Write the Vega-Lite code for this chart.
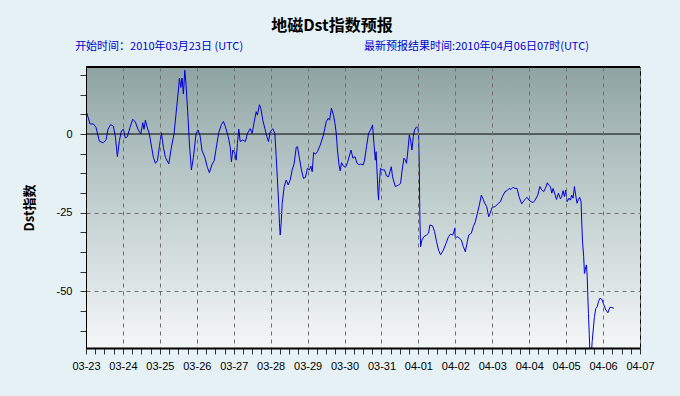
{
  "$schema": "https://vega.github.io/schema/vega-lite/v6.json",
  "width": 554,
  "height": 281,
  "autosize": "none",
  "padding": {"left": 86, "top": 67, "right": 40, "bottom": 48},
  "background": "#e6f1f6",
  "view": {"stroke": "#000000", "strokeWidth": 1},
  "title": {
    "text": "地磁Dst指数预报",
    "subtitle": "开始时间：2010年03月23日 (UTC)\u3000\u3000\u3000\u3000\u3000\u3000\u3000\u3000\u3000\u3000\u3000最新预报结果时间:2010年04月06日07时(UTC)",
    "anchor": "middle",
    "frame": "group",
    "dx": -31,
    "offset": 14,
    "font": "Noto Sans CJK SC",
    "fontSize": 16,
    "fontWeight": "bold",
    "color": "#000000",
    "subtitleFont": "Noto Sans CJK SC",
    "subtitleFontSize": 11,
    "subtitleColor": "#0000cc",
    "subtitlePadding": 7
  },
  "data": {"values": [
    {"hour": 0.6, "v": 6.6}, {"hour": 2.6, "v": 3.2}, {"hour": 4.8, "v": 3.2}, {"hour": 6.5, "v": 2.1},
    {"hour": 8.7, "v": -2.3}, {"hour": 11.3, "v": -2.8}, {"hour": 13, "v": -1.9}, {"hour": 14.3, "v": 1.5},
    {"hour": 16, "v": 3.0}, {"hour": 17.8, "v": 2.5}, {"hour": 19.1, "v": -1.0}, {"hour": 20.4, "v": -7.2},
    {"hour": 21.7, "v": -2.1}, {"hour": 23, "v": 1.0}, {"hour": 24.3, "v": 1.5}, {"hour": 25.6, "v": -1.3},
    {"hour": 26.9, "v": -0.8}, {"hour": 28.6, "v": 2.1}, {"hour": 30.4, "v": 4.7}, {"hour": 32.1, "v": 3.8},
    {"hour": 33.8, "v": 1.5}, {"hour": 35.6, "v": 0.0}, {"hour": 36.9, "v": 3.6}, {"hour": 37.7, "v": 1.5},
    {"hour": 38.6, "v": 4.4}, {"hour": 39.9, "v": 1.9}, {"hour": 41.2, "v": 0.0}, {"hour": 42.5, "v": -3.8},
    {"hour": 43.8, "v": -7.4}, {"hour": 45.1, "v": -9.3}, {"hour": 46.4, "v": -8.5}, {"hour": 47.7, "v": -4.0},
    {"hour": 49, "v": 0.4}, {"hour": 50.3, "v": -4.2}, {"hour": 51.6, "v": -7.4}, {"hour": 53.8, "v": -9.5},
    {"hour": 55.5, "v": -4.2}, {"hour": 57.2, "v": 0.0}, {"hour": 58.5, "v": 6.4}, {"hour": 59.8, "v": 12.7},
    {"hour": 60.7, "v": 17.8}, {"hour": 61.6, "v": 14.8}, {"hour": 62.4, "v": 17.8}, {"hour": 63.3, "v": 12.7},
    {"hour": 64.2, "v": 20.3}, {"hour": 65, "v": 15.9}, {"hour": 66.3, "v": 5.3}, {"hour": 67.2, "v": -3.2},
    {"hour": 68.5, "v": -11.4}, {"hour": 69.8, "v": -7.4}, {"hour": 71.5, "v": 0.0}, {"hour": 72.8, "v": 1.3},
    {"hour": 74.1, "v": -0.5}, {"hour": 75.4, "v": -5.3}, {"hour": 77.2, "v": -7.4}, {"hour": 78.9, "v": -10.6},
    {"hour": 80.2, "v": -12.3}, {"hour": 82, "v": -9.5}, {"hour": 83.3, "v": -8.5}, {"hour": 85, "v": -3.2},
    {"hour": 86.3, "v": 0.5}, {"hour": 88, "v": 3.0}, {"hour": 89.3, "v": 4.0}, {"hour": 90.6, "v": 2.3},
    {"hour": 92.4, "v": -0.8}, {"hour": 93.7, "v": -4.0}, {"hour": 94.5, "v": -8.8}, {"hour": 95.4, "v": -5.1},
    {"hour": 96.7, "v": -6.1}, {"hour": 97.6, "v": -8.3}, {"hour": 98.4, "v": -3.0}, {"hour": 99.3, "v": 1.5},
    {"hour": 100.2, "v": -2.4}, {"hour": 101.9, "v": -1.9}, {"hour": 103.6, "v": -2.4}, {"hour": 104.9, "v": 0.2},
    {"hour": 106.7, "v": 1.7}, {"hour": 108, "v": 0.2}, {"hour": 109.3, "v": 3.9}, {"hour": 110.6, "v": 7.1},
    {"hour": 111.4, "v": 6.0}, {"hour": 112.7, "v": 9.3}, {"hour": 113.6, "v": 8.2}, {"hour": 114.9, "v": 4.4},
    {"hour": 116.2, "v": 1.8}, {"hour": 117.5, "v": -0.8}, {"hour": 118.6, "v": -2.4}, {"hour": 119.7, "v": 0.7},
    {"hour": 121.4, "v": 1.7}, {"hour": 122.7, "v": 0.2}, {"hour": 123.6, "v": -7.2}, {"hour": 124.4, "v": -14.6},
    {"hour": 125.3, "v": -23.1}, {"hour": 125.7, "v": -28.4}, {"hour": 126.2, "v": -32.1}, {"hour": 126.8, "v": -28.4},
    {"hour": 127.5, "v": -22.0}, {"hour": 128.8, "v": -16.7}, {"hour": 130.1, "v": -14.6}, {"hour": 131.4, "v": -16.2},
    {"hour": 132.7, "v": -14.6}, {"hour": 134, "v": -11.4}, {"hour": 135.3, "v": -9.3}, {"hour": 136.6, "v": -4.2},
    {"hour": 137.4, "v": -4.0}, {"hour": 138.7, "v": -7.7}, {"hour": 140, "v": -11.4}, {"hour": 141.3, "v": -14.1},
    {"hour": 142.6, "v": -13.8}, {"hour": 143.9, "v": -10.9}, {"hour": 145.2, "v": -11.4}, {"hour": 146.1, "v": -10.2},
    {"hour": 147, "v": -12.0}, {"hour": 147.9, "v": -5.9}, {"hour": 149.1, "v": -6.4}, {"hour": 150.4, "v": -5.6},
    {"hour": 152.2, "v": -3.5}, {"hour": 154.3, "v": -0.3}, {"hour": 156.1, "v": 3.9}, {"hour": 157.4, "v": 5.0},
    {"hour": 158.3, "v": 4.4}, {"hour": 159.5, "v": 8.2}, {"hour": 160.8, "v": 6.0}, {"hour": 161.8, "v": 3.4},
    {"hour": 162.6, "v": 0.2}, {"hour": 163.4, "v": -5.1}, {"hour": 164.4, "v": -9.8}, {"hour": 165.2, "v": -11.7},
    {"hour": 166, "v": -9.1}, {"hour": 167.3, "v": -10.2}, {"hour": 168.6, "v": -10.6}, {"hour": 169.9, "v": -9.1},
    {"hour": 171.3, "v": -6.7}, {"hour": 172.2, "v": -5.1}, {"hour": 173.5, "v": -7.7}, {"hour": 174.8, "v": -7.2},
    {"hour": 176.1, "v": -9.3}, {"hour": 177.8, "v": -9.8}, {"hour": 178.4, "v": -9.5}, {"hour": 180.2, "v": -9.8},
    {"hour": 181, "v": -8.3}, {"hour": 182.3, "v": -4.0}, {"hour": 183.6, "v": 0.2}, {"hour": 184.9, "v": 1.3},
    {"hour": 185.8, "v": 2.3}, {"hour": 186.2, "v": 2.9}, {"hour": 187.1, "v": -3.0}, {"hour": 188, "v": -8.3},
    {"hour": 188.5, "v": -5.6}, {"hour": 189.3, "v": -13.6}, {"hour": 189.7, "v": -18.3}, {"hour": 190.1, "v": -21.0},
    {"hour": 190.6, "v": -15.7}, {"hour": 191.4, "v": -10.9}, {"hour": 192.3, "v": -11.4}, {"hour": 194, "v": -11.4},
    {"hour": 195.3, "v": -13.3}, {"hour": 196.6, "v": -13.6}, {"hour": 197.5, "v": -12.0}, {"hour": 198.4, "v": -10.4},
    {"hour": 199.2, "v": -13.6}, {"hour": 201, "v": -16.7}, {"hour": 203.1, "v": -16.2}, {"hour": 204.4, "v": -15.7},
    {"hour": 205.3, "v": -12.0}, {"hour": 206.6, "v": -7.7}, {"hour": 207.5, "v": -8.3}, {"hour": 208.3, "v": -9.3},
    {"hour": 209.2, "v": -5.1}, {"hour": 210.1, "v": -0.3}, {"hour": 210.9, "v": -1.9}, {"hour": 211.8, "v": -5.1},
    {"hour": 212.7, "v": -0.8}, {"hour": 213.5, "v": 1.3}, {"hour": 214.8, "v": 2.3}, {"hour": 215.7, "v": 1.8},
    {"hour": 216.1, "v": 0.2}, {"hour": 216.6, "v": -10.4}, {"hour": 216.8, "v": -21.0}, {"hour": 217, "v": -27.3},
    {"hour": 217.4, "v": -35.8}, {"hour": 218.3, "v": -33.7}, {"hour": 219.6, "v": -32.6}, {"hour": 221.3, "v": -32.1},
    {"hour": 222.6, "v": -31.5}, {"hour": 223.5, "v": -28.9}, {"hour": 225.2, "v": -29.2}, {"hour": 226.5, "v": -31.0},
    {"hour": 227.8, "v": -34.2}, {"hour": 229.1, "v": -36.9}, {"hour": 230.4, "v": -38.4}, {"hour": 232.2, "v": -36.9},
    {"hour": 234, "v": -34.7}, {"hour": 235.6, "v": -32.6}, {"hour": 236.9, "v": -31.8}, {"hour": 238.3, "v": -32.1},
    {"hour": 239.1, "v": -31.0}, {"hour": 239.5, "v": -30.0}, {"hour": 240, "v": -33.1}, {"hour": 241.3, "v": -32.6},
    {"hour": 242.6, "v": -33.1}, {"hour": 243.9, "v": -33.7}, {"hour": 245.2, "v": -35.8}, {"hour": 246.5, "v": -37.4},
    {"hour": 247.8, "v": -34.2}, {"hour": 248.7, "v": -32.1}, {"hour": 250.4, "v": -31.5}, {"hour": 251.7, "v": -29.4},
    {"hour": 253, "v": -27.9}, {"hour": 254.3, "v": -25.2}, {"hour": 255.6, "v": -22.6}, {"hour": 256.9, "v": -19.4},
    {"hour": 257.8, "v": -20.4}, {"hour": 259.1, "v": -22.0}, {"hour": 260.4, "v": -23.1}, {"hour": 261.7, "v": -26.3},
    {"hour": 262.6, "v": -25.2}, {"hour": 263.9, "v": -23.3}, {"hour": 265.8, "v": -23.1}, {"hour": 267.5, "v": -22.2},
    {"hour": 269.3, "v": -21.5}, {"hour": 270.6, "v": -19.9}, {"hour": 272.3, "v": -18.3}, {"hour": 273.6, "v": -18.0},
    {"hour": 274.9, "v": -17.3}, {"hour": 276.2, "v": -17.6}, {"hour": 277.5, "v": -16.9}, {"hour": 278.8, "v": -17.3},
    {"hour": 280.1, "v": -17.3}, {"hour": 281.4, "v": -19.9}, {"hour": 283.1, "v": -22.2}, {"hour": 284.9, "v": -21.0},
    {"hour": 286.6, "v": -20.1}, {"hour": 287.9, "v": -21.0}, {"hour": 289.2, "v": -21.5}, {"hour": 290.5, "v": -21.8},
    {"hour": 291.8, "v": -21.0}, {"hour": 293.6, "v": -19.4}, {"hour": 294.9, "v": -16.7}, {"hour": 296.2, "v": -17.8},
    {"hour": 297.5, "v": -18.3}, {"hour": 298.8, "v": -16.9}, {"hour": 299.8, "v": -15.5}, {"hour": 300.6, "v": -16.2},
    {"hour": 301.8, "v": -16.7}, {"hour": 302.7, "v": -18.8}, {"hour": 303.5, "v": -17.3}, {"hour": 304.9, "v": -19.4},
    {"hour": 305.7, "v": -20.8}, {"hour": 307, "v": -18.8}, {"hour": 308.3, "v": -20.6}, {"hour": 309.1, "v": -19.9},
    {"hour": 310, "v": -18.0}, {"hour": 310.9, "v": -19.9}, {"hour": 311.7, "v": -17.8}, {"hour": 312.6, "v": -21.5},
    {"hour": 313.9, "v": -20.4}, {"hour": 314.8, "v": -21.0}, {"hour": 315.6, "v": -19.4}, {"hour": 316.5, "v": -20.4},
    {"hour": 317.4, "v": -16.7}, {"hour": 318.2, "v": -19.4}, {"hour": 319.1, "v": -22.0}, {"hour": 320, "v": -20.8},
    {"hour": 320.8, "v": -20.1}, {"hour": 321.7, "v": -21.5}, {"hour": 322.1, "v": -27.3}, {"hour": 322.6, "v": -33.7},
    {"hour": 323.4, "v": -39.0}, {"hour": 323.9, "v": -44.3}, {"hour": 324.8, "v": -42.2}, {"hour": 325.2, "v": -41.6},
    {"hour": 325.7, "v": -45.3}, {"hour": 326.1, "v": -51.7}, {"hour": 326.5, "v": -57.0}, {"hour": 327, "v": -63.3},
    {"hour": 327.5, "v": -70.0}, {"hour": 328.2, "v": -72.0}, {"hour": 328.9, "v": -66.0}, {"hour": 329.6, "v": -62.3},
    {"hour": 330.4, "v": -58.0}, {"hour": 331.3, "v": -55.4}, {"hour": 332.2, "v": -54.9}, {"hour": 333, "v": -53.3},
    {"hour": 333.9, "v": -52.2}, {"hour": 335.2, "v": -52.5}, {"hour": 336.5, "v": -54.3}, {"hour": 337.8, "v": -55.9},
    {"hour": 339.1, "v": -56.8}, {"hour": 340.4, "v": -55.1}, {"hour": 341.7, "v": -55.1}, {"hour": 343, "v": -55.4}
  ]},
  "layer": [
    {
      "data": {"values": [{"hour": 0, "hour2": 360, "v": 21.3, "v2": -68}]},
      "mark": {"type": "rect", "color": {"gradient": "linear", "x1": 0, "y1": 0, "x2": 0, "y2": 1, "stops": [
        {"offset": 0, "color": "#8fa3a3"},
        {"offset": 0.25, "color": "#aabbbb"},
        {"offset": 0.55, "color": "#c8d4d4"},
        {"offset": 0.8, "color": "#e0e7e7"},
        {"offset": 1, "color": "#f5f7f7"}
      ]}},
      "encoding": {
        "x": {
          "field": "hour",
          "type": "quantitative",
          "scale": {"domain": [0, 360], "nice": false, "zero": false},
          "axis": {
            "title": null,
            "zindex": 1,
            "tickCount": 200,
            "values": [0, 6, 12, 18, 24, 30, 36, 42, 48, 54, 60, 66, 72, 78, 84, 90, 96, 102, 108, 114, 120, 126, 132, 138, 144, 150, 156, 162, 168, 174, 180, 186, 192, 198, 204, 210, 216, 222, 228, 234, 240, 246, 252, 258, 264, 270, 276, 282, 288, 294, 300, 306, 312, 318, 324, 330, 336, 342, 348, 354, 360],
            "labelExpr": "datum.value % 24 == 0 ? utcFormat(1269302400000 + datum.value * 3600000, '%m-%d') : ''",
            "labelFont": "Liberation Sans",
            "labelFontSize": 11,
            "labelColor": "#000000",
            "labelOverlap": false,
            "labelFlush": false,
            "labelPadding": 6,
            "tickColor": "#333333",
            "tickSize": 6,
            "domainColor": "#000000",
            "domainWidth": 2,
            "grid": true,
            "gridColor": "#6e6e6e",
            "gridDash": [4, 4],
            "gridWidth": 1,
            "gridOpacity": {"condition": {"test": "datum.value % 24 == 0", "value": 1}, "value": 0}
          }
        },
        "x2": {"field": "hour2"},
        "y": {
          "field": "v",
          "type": "quantitative",
          "scale": {"domain": [-68, 21.3], "nice": false, "zero": false},
          "axis": {
            "title": "Dst指数",
            "zindex": 1,
            "tickCount": 200,
            "titleFont": "Noto Sans CJK SC",
            "titleFontSize": 13,
            "titleFontWeight": "bold",
            "titleColor": "#000000",
            "titlePadding": 20,
            "values": [-62.5, -56.25, -50, -43.75, -37.5, -31.25, -25, -18.75, -12.5, -6.25, 0, 6.25, 12.5, 18.75],
            "labelExpr": "datum.value % 25 == 0 ? '' + datum.value : ''",
            "labelFont": "Liberation Sans",
            "labelFontSize": 11,
            "labelColor": "#000000",
            "labelPadding": 8,
            "labelOverlap": false,
            "tickColor": "#333333",
            "tickSize": 6,
            "domainColor": "#000000",
            "domainWidth": 1,
            "grid": true,
            "gridColor": "#6e6e6e",
            "gridDash": [4, 4],
            "gridWidth": 1,
            "gridOpacity": {"condition": {"test": "datum.value % 25 == 0 && datum.value != 0", "value": 1}, "value": 0}
          }
        },
        "y2": {"field": "v2"}
      }
    },
    {
      "mark": {"type": "line", "color": "#0000dd", "strokeWidth": 1, "clip": true},
      "encoding": {
        "x": {"field": "hour", "type": "quantitative"},
        "y": {"field": "v", "type": "quantitative"}
      }
    },
    {
      "data": {"values": [{"v": 0}]},
      "mark": {"type": "rule", "color": "#000000", "strokeWidth": 1},
      "encoding": {"y": {"field": "v", "type": "quantitative"}}
    },
    {
      "data": {"values": [{"v": 21.3}]},
      "mark": {"type": "rule", "color": "#000000", "strokeWidth": 2},
      "encoding": {"y": {"field": "v", "type": "quantitative"}}
    }
  ]
}
